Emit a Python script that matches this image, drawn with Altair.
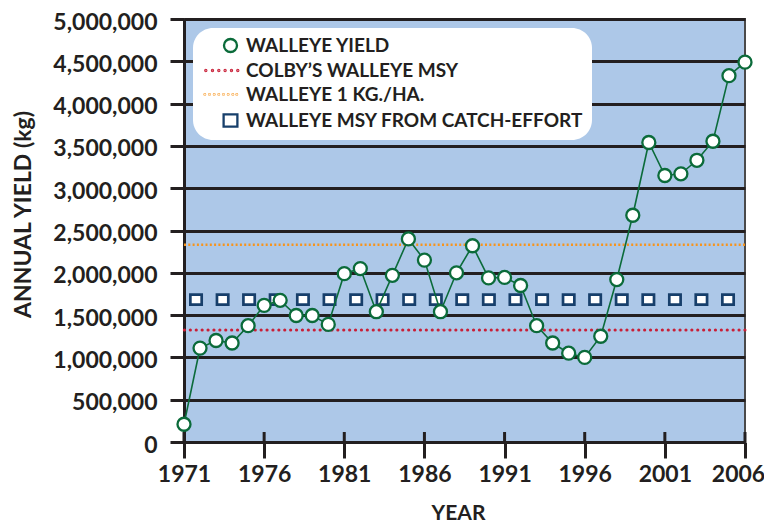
import altair as alt
import pandas as pd

# ---------------- data ----------------
years = list(range(1971, 2007))
walleye_yield = [210000, 1110000, 1200000, 1170000, 1375000, 1615000, 1675000, 1495000,
                 1495000, 1390000, 1990000, 2050000, 1540000, 1970000, 2400000, 2150000,
                 1540000, 2000000, 2320000, 1940000, 1945000, 1850000, 1375000, 1170000,
                 1050000, 1000000, 1250000, 1920000, 2680000, 3540000, 3150000, 3170000,
                 3330000, 3555000, 4330000, 4490000]
colby_msy = [1324000]
one_kg_per_ha = [2332000]
msy_catch_effort_level = 1682000
msy_marker_years = [1971.75, 1973.41, 1975.06, 1976.72, 1978.42, 1980.08, 1981.74,
                    1983.39, 1985.05, 1986.71, 1988.36, 1990.02, 1991.68, 1993.34,
                    1995.0, 1996.65, 1998.31, 1999.97, 2001.63, 2003.28, 2004.94]
series_names = ["WALLEYE YIELD", "COLBY\u2019S WALLEYE MSY", "WALLEYE 1 KG./HA.",
                "WALLEYE MSY FROM CATCH-EFFORT"]
x_tick_years = [1971, 1976, 1981, 1986, 1991, 1996, 2001, 2006]
y_tick_values = [0, 500000, 1000000, 1500000, 2000000, 2500000, 3000000, 3500000,
                 4000000, 4500000, 5000000]

# ---------------- styles ----------------
INK = "#231f20"
GREEN = "#0b6b3a"
RED = "#c91f37"
ORANGE = "#f7941d"
NAVY = "#173f6b"
BG = "#adc8e8"
FONT = "Lato"


def dots_path(centers, r):
    return " ".join(
        f"M{c - r:.3f},0 a{r},{r} 0 1,0 {2 * r},0 a{r},{r} 0 1,0 {-2 * r},0 Z" for c in centers
    )


red_dots = dots_path([-3.80, -2.77, -1.80, -0.83, 0.15, 1.12], 0.08)
orange_dots = dots_path([-3.95, -3.23, -2.51, -1.80, -1.08, -0.36, 0.36, 0.97], 0.04)
rect_path = "M-1.06,-0.94 H1.06 V0.94 H-1.06 Z"

yield_df = pd.DataFrame({"year": years, "value": walleye_yield, "series": series_names[0]})
colby_df = pd.DataFrame({"value": colby_msy})
kgha_df = pd.DataFrame({"value": one_kg_per_ha})
msy_df = pd.DataFrame({"year": msy_marker_years,
                       "value": [msy_catch_effort_level] * len(msy_marker_years)})
tick_df = pd.DataFrame({"year": x_tick_years, "value": [0] * len(x_tick_years)})

x_enc = alt.X(
    "year:Q",
    scale=alt.Scale(domain=[1971, 2006], nice=False, zero=False),
    title="YEAR",
    axis=alt.Axis(values=x_tick_years, format="d", grid=False,
                  labelFont=FONT, labelFontSize=23, labelFontWeight="bold", labelColor=INK,
                  labelPadding=5, labelFlush=False, labelOverlap=False,
                  labelOffset={"condition": {"test": "datum.value === 2006", "value": -7},
                               "value": 0},
                  tickSize=16, tickWidth=3, tickColor=INK,
                  domainColor=INK, domainWidth=3,
                  titleFont=FONT, titleFontSize=21, titleFontWeight="bold", titleColor=INK,
                  titlePadding=16, titleX=274),
)
y_enc = alt.Y(
    "value:Q",
    scale=alt.Scale(domain=[0, 5000000], nice=False, zero=True),
    title="ANNUAL YIELD (kg)",
    axis=alt.Axis(values=y_tick_values, format=",d", grid=True, gridColor=INK, gridWidth=3,
                  labelFont=FONT, labelFontSize=23, labelFontWeight="bold", labelColor=INK,
                  labelPadding=13, labelOffset=3, labelFlush=False, labelOverlap=False,
                  tickSize=14, tickWidth=3, tickColor=INK,
                  domainColor=INK, domainWidth=3,
                  titleFont=FONT, titleFontSize=23, titleFontWeight="bold", titleColor=INK,
                  titlePadding=17, titleY=195),
)

legend = alt.Legend(title=None, orient="none", legendX=9, legendY=9,
                    fillColor="white", cornerRadius=20, padding=8,
                    symbolSize=169, symbolStrokeWidth=2.3, symbolOpacity=1,
                    symbolOffset=20,
                    labelFont=FONT, labelFontSize=19, labelFontWeight="bold", labelColor=INK,
                    labelOffset=6, rowPadding=4, labelLimit=600)

colby_rule = alt.Chart(colby_df).mark_rule(
    color=RED, strokeWidth=3.1, strokeDash=[0.1, 5.8], strokeCap="round"
).encode(y=y_enc)

kgha_rule = alt.Chart(kgha_df).mark_rule(
    color=ORANGE, strokeWidth=2.4, strokeDash=[2, 2.3]
).encode(y=y_enc)

inner_ticks = alt.Chart(tick_df).mark_rule(color=INK, strokeWidth=3).encode(
    x=x_enc, y=y_enc, y2=alt.Y2(datum=118000)
)

msy_squares = alt.Chart(msy_df).mark_point(
    shape=rect_path, size=114, filled=True, fill="white", stroke=NAVY,
    strokeWidth=2.7, opacity=1
).encode(x=x_enc, y=y_enc)

yield_line = alt.Chart(yield_df).mark_line(color=GREEN, strokeWidth=1.6).encode(
    x=x_enc, y=y_enc
)

yield_points = alt.Chart(yield_df).mark_point(size=169, strokeWidth=2.3, opacity=1).encode(
    x=x_enc,
    y=y_enc,
    shape=alt.Shape("series:N", scale=alt.Scale(
        domain=series_names, range=["circle", red_dots, orange_dots, rect_path]), legend=legend),
    stroke=alt.Stroke("series:N", scale=alt.Scale(
        domain=series_names, range=[GREEN, RED, ORANGE, NAVY]), legend=legend),
    fill=alt.Fill("series:N", scale=alt.Scale(
        domain=series_names, range=["white", RED, ORANGE, "white"]), legend=legend),
)

chart = alt.layer(
    colby_rule, kgha_rule, inner_ticks, msy_squares, yield_line, yield_points
).properties(
    width=561, height=423,
    autosize=alt.AutoSizeParams(type="none"),
    padding={"left": 176, "top": 11, "right": 19, "bottom": 80},
    background="white",
).configure_view(
    fill=BG, stroke="#4a4a4a", strokeWidth=2
)

chart.save("out.html", embed_options={"renderer": "svg", "actions": False})
